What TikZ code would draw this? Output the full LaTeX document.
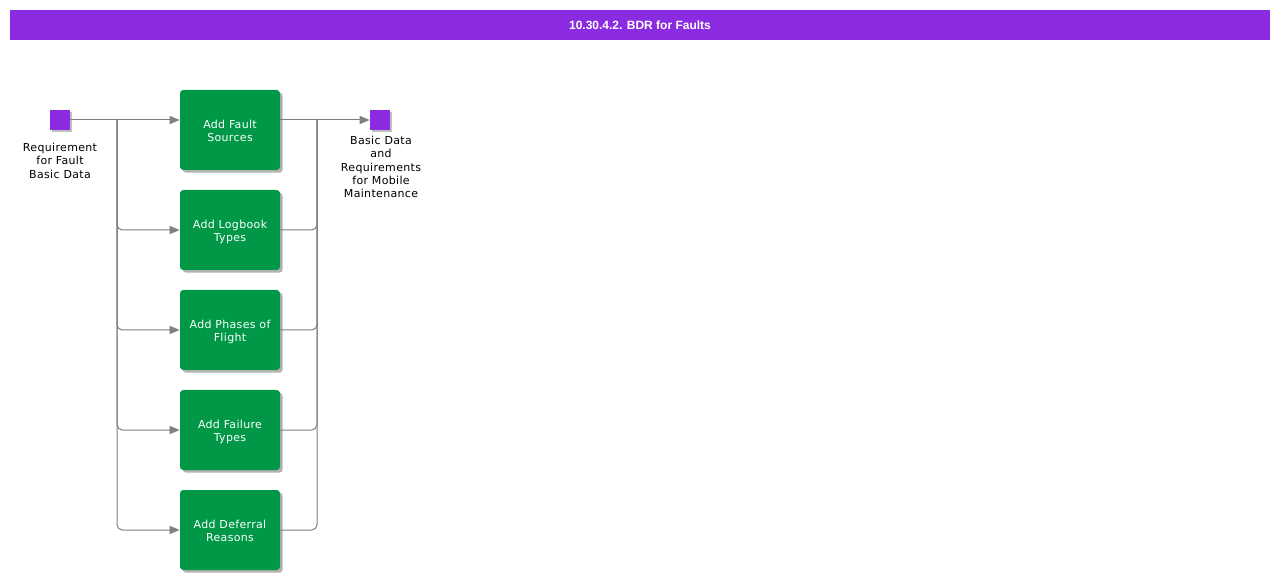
\documentclass[tikz,border=0pt]{standalone}
\usepackage{fontspec}
\setmainfont{DejaVu Sans}[LetterSpace=3]
\newfontfamily\titlefont{Liberation Sans}
\usetikzlibrary{arrows.meta,shadows}
\definecolor{bviolet}{HTML}{8A2BE2}
\definecolor{bgreen}{HTML}{009846}
\definecolor{lgray}{HTML}{808080}
\newcommand\twoline[2]{\raisebox{-1.6pt}[\height][\depth]{\begin{tabular}{@{}c@{}}#1\\#2\end{tabular}}}
\tikzset{
  px/.style={x=0.75pt,y=-0.75pt},
  task/.style={draw=none,fill=bgreen,rounded corners=2.5pt,minimum width=75pt,minimum height=60pt,
    text=white,inner sep=0pt,font=\fontsize{8.25}{9.75}\selectfont,
    drop shadow={shadow xshift=2pt,shadow yshift=-2pt,fill=black,opacity=0.3}},
  event/.style={draw=none,fill=bviolet,minimum size=15pt,inner sep=0pt,
    drop shadow={shadow xshift=1.5pt,shadow yshift=-1.5pt,fill=black,opacity=0.25}},
  evlabel/.style={align=center,font=\fontsize{8.25}{9.9}\selectfont,inner sep=0pt,anchor=north},
  conn/.style={draw=lgray,line width=0.75pt},
  arr/.style={conn,-{Triangle[length=7.5pt,width=6pt]}},
}
\begin{document}
\begin{tikzpicture}[px]
\useasboundingbox (0,0) rectangle (1280,580);
\fill[bviolet] (10,10) rectangle (1270,40);
\node[text=white,font=\titlefont\bfseries\fontsize{9}{11}\selectfont] (title) at (640,25) {10.30.4.2. BDR for Faults};

\node[event] (src) at (60,120) {};
\node[evlabel] (srclab) at (60,143) {Requirement\\for Fault\\Basic Data};
\node[event] (tgt) at (380,120) {};
\node[evlabel] (tgtlab) at (381,136) {Basic Data\\and\\Requirements\\for Mobile\\Maintenance};

\node[task] (b1) at (230,130) {\twoline{Add Fault}{Sources}};
\node[task] (b2) at (230,230) {\twoline{Add Logbook}{Types}};
\node[task] (b3) at (230,330) {\twoline{Add Phases of}{Flight}};
\node[task] (b4) at (230,430) {\twoline{Add Failure}{Types}};
\node[task] (b5) at (230,530) {\twoline{Add Deferral}{Reasons}};

\coordinate (jl) at (117,120);
\coordinate (jr) at (317,120);

\draw[conn] (src.east) -- (jl);
\draw[arr] (jl) -- (b1.west |- jl);
\foreach \b/\y in {b2/230,b3/330,b4/430,b5/530}{
  \draw[arr,rounded corners=4pt] (jl) |- (\b.west |- 0,\y);
  \draw[conn,rounded corners=4pt] (\b.east |- 0,\y) -| (jr);
}
\draw[conn] (b1.east |- jr) -- (jr);
\draw[arr] (jr) -- (tgt.west);
\end{tikzpicture}
\end{document}
